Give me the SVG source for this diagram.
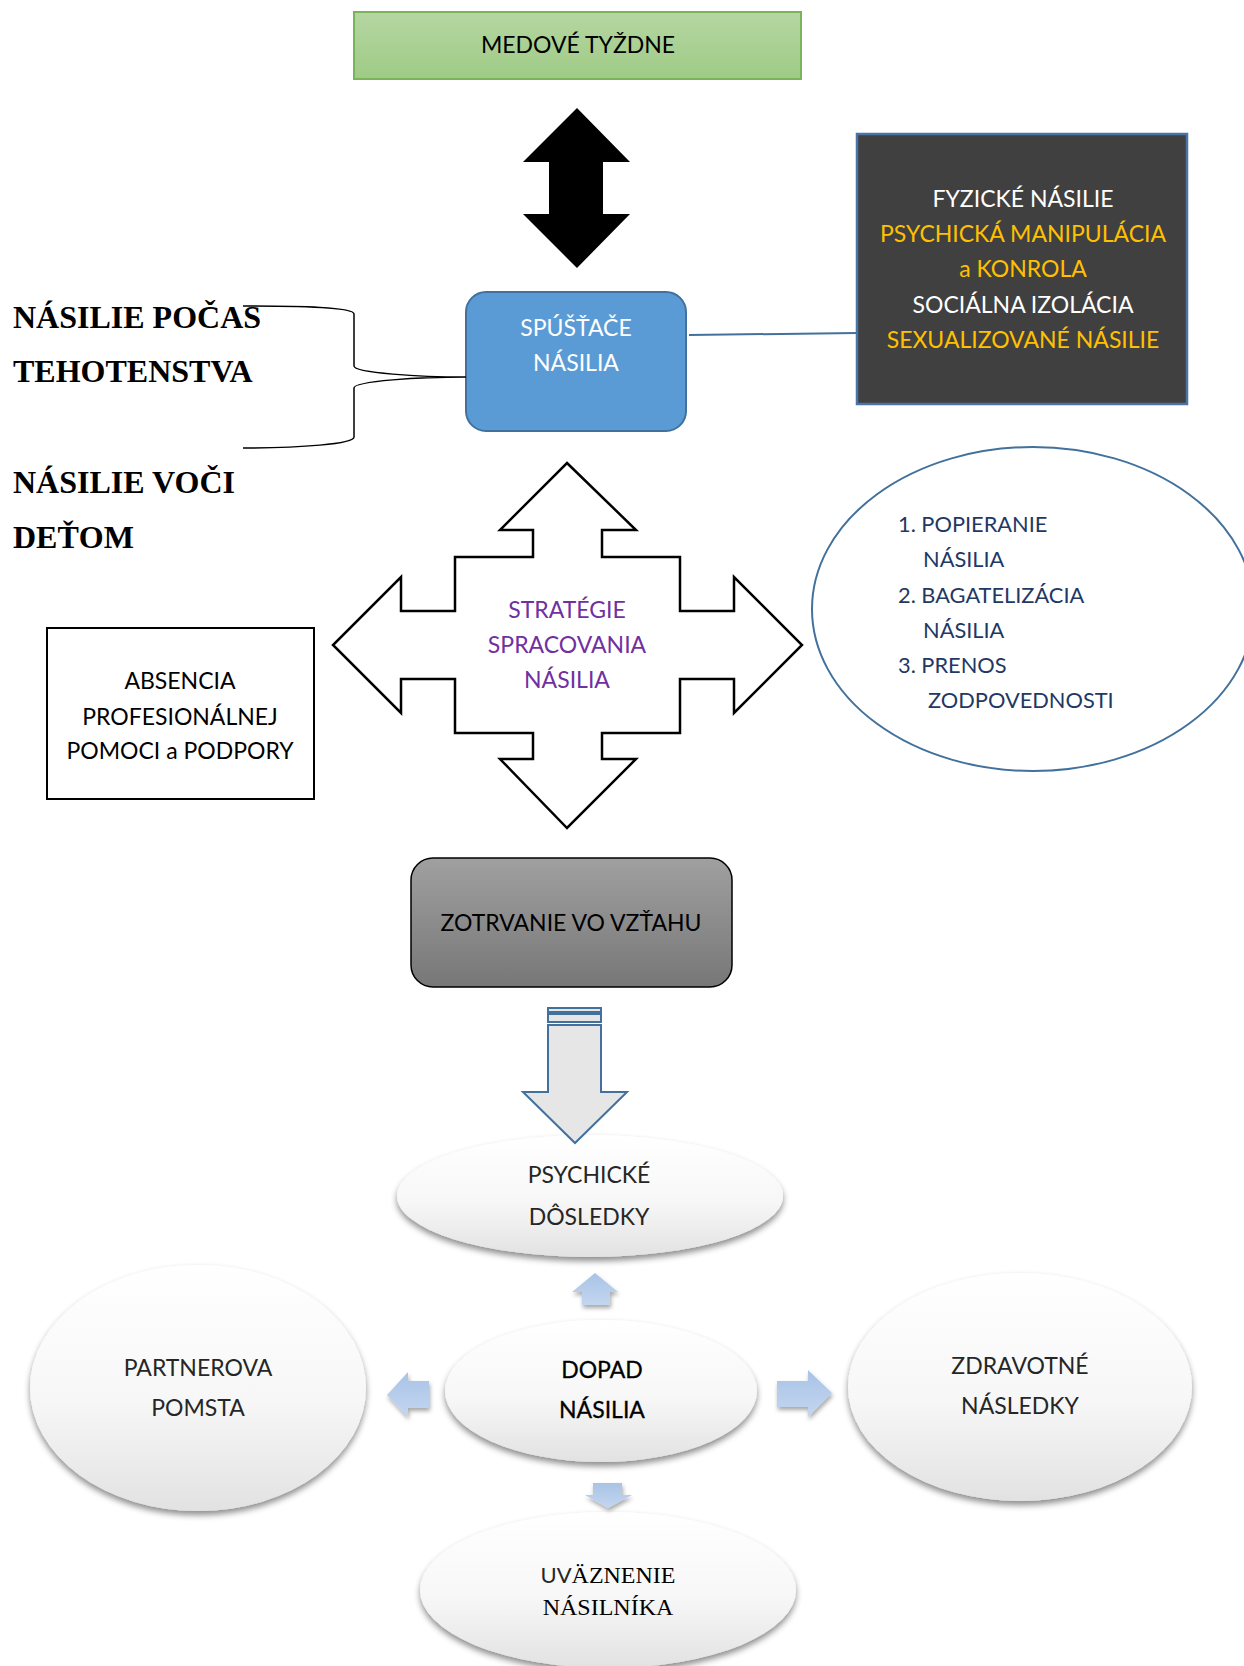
<svg xmlns="http://www.w3.org/2000/svg" width="1244" height="1666" viewBox="0 0 1244 1666">
<defs>
<linearGradient id="gGreen" x1="0" y1="0" x2="0" y2="1"><stop offset="0" stop-color="#b5d6a2"/><stop offset="1" stop-color="#9fcb86"/></linearGradient>
<linearGradient id="gGray" x1="0" y1="0" x2="0" y2="1"><stop offset="0" stop-color="#a0a0a0"/><stop offset="1" stop-color="#777777"/></linearGradient>
<linearGradient id="gEll" x1="0" y1="0" x2="0" y2="1"><stop offset="0" stop-color="#ffffff"/><stop offset="0.55" stop-color="#f7f7f7"/><stop offset="1" stop-color="#e2e2e2"/></linearGradient>
<linearGradient id="gBlue" x1="0" y1="0" x2="0" y2="1"><stop offset="0" stop-color="#a9c3e6"/><stop offset="1" stop-color="#c3d6f0"/></linearGradient>
<filter id="sh" x="-20%" y="-20%" width="140%" height="150%"><feDropShadow dx="0" dy="4" stdDeviation="3" flood-color="#000" flood-opacity="0.45"/></filter>
<filter id="sh2" x="-30%" y="-30%" width="160%" height="170%"><feDropShadow dx="1" dy="3" stdDeviation="2" flood-color="#000" flood-opacity="0.35"/></filter>
</defs>
<style>
.s{font-family:Lato,"Liberation Sans",sans-serif;font-size:23px;text-anchor:middle}
.tnr{font-family:"Liberation Serif",serif;font-size:32px;font-weight:bold;fill:#000}
.lst{font-family:Lato,"Liberation Sans",sans-serif;font-size:21.8px;fill:#1f3864}
.ell{fill:url(#gEll);filter:url(#sh)}
.barrow{fill:url(#gBlue);filter:url(#sh2)}
.lt{fill:#262626}
</style>

<g id="medove">
<rect x="354" y="12" width="447" height="67" fill="url(#gGreen)" stroke="#7ab458" stroke-width="2"/>
<text class="s" x="578" y="53" font-size="21.5" fill="#000">MEDOVÉ TYŽDNE</text>
</g>

<g id="formy">
<rect x="857" y="134" width="330" height="270" fill="#404040" stroke="#4a74a6" stroke-width="2.5"/>
<text class="s" x="1023" y="207" font-size="20.8" fill="#ffffff">FYZICKÉ NÁSILIE</text>
<text class="s" x="1023" y="242" font-size="20.8" fill="#ffc000">PSYCHICKÁ MANIPULÁCIA</text>
<text class="s" x="1023" y="277" font-size="20.8" fill="#ffc000">a KONROLA</text>
<text class="s" x="1023" y="313" font-size="20.8" fill="#ffffff">SOCIÁLNA IZOLÁCIA</text>
<text class="s" x="1023" y="348" font-size="20.8" fill="#ffc000">SEXUALIZOVANÉ NÁSILIE</text>
</g>

<g id="spustace">
<rect x="466" y="292" width="220" height="139" rx="20" ry="20" fill="#5b9bd5" stroke="#41719c" stroke-width="2"/>
<text class="s" x="576" y="336" font-size="21.5" fill="#ffffff">SPÚŠŤAČE</text>
<text class="s" x="576" y="371" font-size="21.5" fill="#ffffff">NÁSILIA</text>
</g>

<g id="tehotenstvo">
<text class="tnr" x="13" y="328">NÁSILIE POČAS</text>
<text class="tnr" x="13" y="382">TEHOTENSTVA</text>
</g>
<g id="deti">
<text class="tnr" x="13" y="493">NÁSILIE VOČI</text>
<text class="tnr" x="13" y="548">DEŤOM</text>
</g>

<g id="strategie">
<polygon points="567,463 636,530 602,530 602,557 680,557 680,611 734,611 734,577 802,645 734,713 734,679 680,679 680,733 602,733 602,759 636,759 567,828 500,759 533,759 533,733 455,733 455,679 401,679 401,713 333,645 401,577 401,611 455,611 455,557 533,557 533,530 500,530" fill="#fff" stroke="#000" stroke-width="2.5"/>
<text class="s" x="567" y="618" font-size="21" fill="#7030a0">STRATÉGIE</text>
<text class="s" x="567" y="653" font-size="21" fill="#7030a0">SPRACOVANIA</text>
<text class="s" x="567" y="688" font-size="21" fill="#7030a0">NÁSILIA</text>
</g>

<g id="zoznam">
<ellipse cx="1033" cy="609" rx="221" ry="162" fill="#fff" stroke="#41719c" stroke-width="2"/>
<text class="lst" x="898" y="532">1. POPIERANIE</text>
<text class="lst" x="923" y="567">NÁSILIA</text>
<text class="lst" x="898" y="603">2. BAGATELIZÁCIA</text>
<text class="lst" x="923" y="638">NÁSILIA</text>
<text class="lst" x="898" y="673">3. PRENOS</text>
<text class="lst" x="928" y="708">ZODPOVEDNOSTI</text>
</g>

<g id="absencia">
<rect x="47" y="628" width="267" height="171" fill="#fff" stroke="#000" stroke-width="2"/>
<text class="s" x="180" y="689" font-size="20.8" fill="#000">ABSENCIA</text>
<text class="s" x="180" y="725" font-size="20.8" fill="#000">PROFESIONÁLNEJ</text>
<text class="s" x="180" y="759" font-size="20.8" fill="#000">POMOCI a PODPORY</text>
</g>

<g id="zotrvanie">
<rect x="411" y="858" width="321" height="129" rx="22" ry="22" fill="url(#gGray)" stroke="#000" stroke-width="1.5"/>
<text class="s" x="571" y="931" font-size="21.8" fill="#000">ZOTRVANIE VO VZŤAHU</text>
</g>

<g id="psychicke">
<ellipse class="ell" cx="590" cy="1196" rx="193" ry="61"/>
<text class="s lt" x="589" y="1183">PSYCHICKÉ</text>
<text class="s lt" x="589" y="1225">DÔSLEDKY</text>
</g>

<g id="dopad">
<ellipse class="ell" cx="601" cy="1391" rx="156" ry="71"/>
<text class="s" x="602" y="1378" fill="#000" stroke="#000" stroke-width="0.3">DOPAD</text>
<text class="s" x="602" y="1418" fill="#000" stroke="#000" stroke-width="0.3">NÁSILIA</text>
</g>

<g id="pomsta">
<ellipse class="ell" cx="198" cy="1388" rx="168" ry="123"/>
<text class="s lt" x="198" y="1376">PARTNEROVA</text>
<text class="s lt" x="198" y="1416">POMSTA</text>
</g>

<g id="zdravotne">
<ellipse class="ell" cx="1020" cy="1387" rx="172" ry="114"/>
<text class="s lt" x="1020" y="1374">ZDRAVOTNÉ</text>
<text class="s lt" x="1020" y="1414">NÁSLEDKY</text>
</g>

<g id="uvaznenie">
<ellipse class="ell" cx="608" cy="1590" rx="188" ry="78"/>
<text x="608" y="1583" text-anchor="middle" font-family="Liberation Serif, serif" font-size="24" fill="#000"><tspan font-family="Lato, sans-serif" font-size="22" fill="#262626">UV</tspan>ÄZNENIE</text>
<text x="608" y="1615" text-anchor="middle" font-family="Liberation Serif, serif" font-size="24" fill="#000">NÁSILNÍKA</text>
</g>

<g id="connectors">
<line x1="689" y1="335" x2="857" y2="333" stroke="#41719c" stroke-width="2"/>
<path d="M243,306 C300,306 354,307 354,314 L354,366 C354,373 420,377 466,377 C420,377 354,381 354,388 L354,437 C354,444 300,448 243,448" fill="none" stroke="#000" stroke-width="1.5"/>
<polygon points="577,108 630,162 603,162 603,214 630,214 577,268 523,214 549,214 549,162 523,162" fill="#000"/>
<g id="downArrow" fill="#e6e6e6" stroke="#41719c" stroke-width="2">
<rect x="548" y="1008" width="53" height="4"/>
<rect x="548" y="1014" width="53" height="8"/>
<polygon points="548,1025 601,1025 601,1092 627,1092 575,1143 523,1092 548,1092"/>
</g>
<polygon class="barrow" points="595,1273 618,1292 610,1292 610,1305 582,1305 582,1292 572,1292"/>
<polygon class="barrow" points="387,1395 408,1372 408,1381 429,1381 429,1408 408,1408 408,1417"/>
<polygon class="barrow" points="777,1381 808,1381 808,1370 832,1393 808,1417 808,1407 777,1407"/>
<polygon class="barrow" points="593,1483 622,1483 622,1495 632,1495 608,1508 585,1495 593,1495"/>
</g>
</svg>
